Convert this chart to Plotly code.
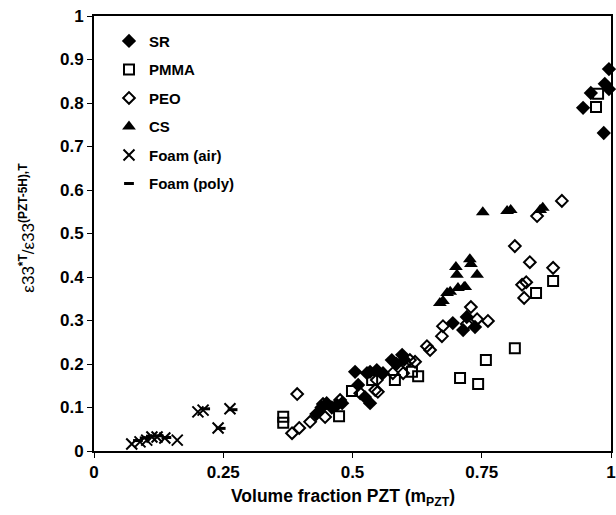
import plotly.graph_objects as go

# ---- data ----
sr_x = [0.43, 0.44, 0.45, 0.46, 0.47, 0.48, 0.505, 0.511, 0.524, 0.534, 0.528, 0.534,
        0.547, 0.559, 0.576, 0.596, 0.60, 0.585, 0.694, 0.714, 0.737, 0.721,
        0.946, 0.961, 0.988, 0.996, 0.996, 0.986]
sr_y = [0.085, 0.10, 0.11, 0.10, 0.106, 0.11, 0.182, 0.152, 0.124, 0.110, 0.179, 0.182,
        0.186, 0.179, 0.209, 0.221, 0.21, 0.20, 0.294, 0.278, 0.285, 0.308,
        0.789, 0.823, 0.844, 0.878, 0.832, 0.731]

pmma_x = [0.366, 0.366, 0.474, 0.499, 0.538, 0.582, 0.615, 0.627, 0.708, 0.743,
          0.758, 0.814, 0.855, 0.888, 0.971, 0.975]
pmma_y = [0.079, 0.065, 0.080, 0.138, 0.163, 0.163, 0.182, 0.172, 0.168, 0.154,
          0.209, 0.236, 0.363, 0.391, 0.791, 0.821]

peo_x = [0.383, 0.393, 0.397, 0.418, 0.447, 0.443, 0.476, 0.515, 0.544, 0.549, 0.547,
         0.578, 0.598, 0.602, 0.611, 0.621, 0.644, 0.650, 0.673, 0.675, 0.721, 0.729,
         0.741, 0.762, 0.814, 0.828, 0.836, 0.832, 0.843, 0.857, 0.888, 0.905]
peo_y = [0.041, 0.131, 0.053, 0.067, 0.078, 0.108, 0.117, 0.133, 0.140, 0.136, 0.163,
         0.179, 0.179, 0.202, 0.209, 0.205, 0.241, 0.232, 0.264, 0.287, 0.292, 0.331,
         0.303, 0.299, 0.471, 0.382, 0.388, 0.352, 0.434, 0.540, 0.421, 0.575]

cs_x = [0.669, 0.675, 0.683, 0.689, 0.700, 0.702, 0.704, 0.716, 0.718, 0.727, 0.729,
        0.741, 0.752, 0.799, 0.806, 0.863, 0.868]
cs_y = [0.340, 0.345, 0.363, 0.366, 0.423, 0.405, 0.375, 0.377, 0.377, 0.441, 0.430,
        0.405, 0.549, 0.552, 0.554, 0.554, 0.559]

fair_x = [0.073, 0.089, 0.102, 0.112, 0.122, 0.137, 0.161, 0.201, 0.211, 0.240, 0.263]
fair_y = [0.016, 0.021, 0.025, 0.032, 0.032, 0.030, 0.025, 0.090, 0.094, 0.053, 0.097]

fpoly_x = [0.085, 0.098, 0.110, 0.125, 0.140, 0.215, 0.245, 0.268]
fpoly_y = [0.024, 0.030, 0.034, 0.035, 0.031, 0.097, 0.052, 0.095]

x_ticks = [0, 0.25, 0.5, 0.75, 1]
x_ticklabels = ["0", "0.25", "0.5", "0.75", "1"]
y_ticks = [0, 0.1, 0.2, 0.3, 0.4, 0.5, 0.6, 0.7, 0.8, 0.9, 1]
y_ticklabels = ["0", "0.1", "0.2", "0.3", "0.4", "0.5", "0.6", "0.7", "0.8", "0.9", "1"]

x_title = "Volume fraction PZT (m<sub>PZT</sub>)"
y_title = "ε33<sup><b>*T</b></sup>/ε33<sup><b>(PZT-5H),T</b></sup>"

FONT = "Liberation Sans, Arial, sans-serif"

fig = go.Figure()

def add(name, xs, ys, symbol, size, lw=2):
    fig.add_trace(go.Scatter(
        x=xs, y=ys, mode="markers", name=name, legendgroup=name,
        cliponaxis=False,
        marker=dict(symbol=symbol, size=size, color="black",
                    line=dict(color="black", width=lw)),
    ))

add("SR", sr_x, sr_y, "diamond", 11, 0)
add("PMMA", pmma_x, pmma_y, "square-open", 10, 2)
add("PEO", peo_x, peo_y, "diamond-open", 9, 2)
add("CS", cs_x, cs_y, "triangle-up", 12, 0)
add("Foam (air)", fair_x, fair_y, "x-thin-open", 11, 2)
add("Foam (poly)", fpoly_x, fpoly_y, "line-ew-open", 7, 3)

fig.update_layout(
    width=616, height=515,
    margin=dict(l=94, r=5, t=16, b=64),
    paper_bgcolor="white", plot_bgcolor="white",
    font=dict(family=FONT, color="black"),
    showlegend=True,
    legend=dict(x=0.029, y=0.98, xanchor="left", yanchor="top",
                bgcolor="rgba(0,0,0,0)", traceorder="grouped",
                tracegroupgap=6, itemwidth=30,
                font=dict(family=FONT, size=15, weight="bold")),
    xaxis=dict(range=[0, 1], tickvals=x_ticks, ticktext=x_ticklabels,
               showgrid=False, zeroline=False, showline=True, linecolor="black",
               linewidth=2, mirror=True, ticks="outside", ticklen=5, tickwidth=1,
               tickcolor="black", automargin=False,
               tickfont=dict(family=FONT, size=17, weight="bold")),
    yaxis=dict(range=[0, 1], tickvals=y_ticks, ticktext=y_ticklabels,
               showgrid=False, zeroline=False, showline=True, linecolor="black",
               linewidth=2, mirror=True, ticks="outside", ticklen=5, tickwidth=1,
               tickcolor="black", automargin=False,
               tickfont=dict(family=FONT, size=17, weight="bold")),
    annotations=[
        dict(text=x_title, xref="paper", yref="paper", x=0.482, y=-0.106,
             xanchor="center", yanchor="middle", showarrow=False,
             font=dict(family=FONT, size=17.5, weight="bold")),
        dict(text=y_title, xref="paper", yref="paper", x=-0.13, y=0.513,
             xanchor="center", yanchor="middle", showarrow=False, textangle=-90,
             font=dict(family=FONT, size=17)),
    ],
)

fig.write_html("out.html", config={"displayModeBar": False},
               post_script="document.body.style.margin='0';document.body.style.overflow='hidden';")
